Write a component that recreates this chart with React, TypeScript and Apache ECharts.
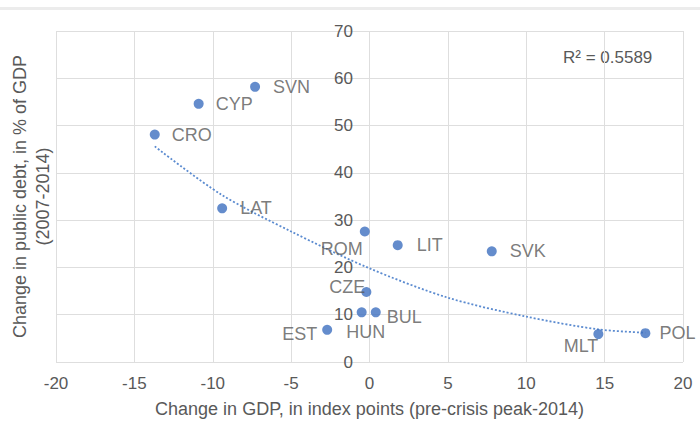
import React, { useEffect, useRef } from "react";
import * as echarts from "echarts";

// Countries and their values
const countries = ["CRO", "CYP", "SVN", "LAT", "ROM", "LIT", "SVK", "CZE", "HUN", "BUL", "EST", "MLT", "POL"];
const gdpChange = [-13.7, -10.9, -7.3, -9.4, -0.3, 1.8, 7.8, -0.2, -0.5, 0.4, -2.7, 14.6, 17.6];
const debtChange = [48.1, 54.6, 58.2, 32.5, 27.6, 24.7, 23.4, 14.8, 10.5, 10.5, 6.8, 5.9, 6.1];

// Trend line points
const trendGdp = [-13.7, -9.5, -5, 0, 5, 10, 14.6, 17.6];
const trendDebt = [45.6, 35.5, 27.6, 19.8, 13.6, 9.6, 6.9, 6.2];

const rSquaredText = "R\u00B2 = 0.5589";
const xTitle = "Change in GDP, in index points (pre-crisis peak-2014)";
const yTitle = "Change in public debt, in % of GDP\n(2007-2014)";

const labelPlacement: Record<string, any> = {
  CRO: { position: "right", distance: 12 },
  CYP: { position: "right", distance: 12 },
  SVN: { position: "right", distance: 13 },
  LAT: { position: "right", distance: 13 },
  ROM: { position: "left", distance: 0, offset: [3, 18] },
  LIT: { position: "right", distance: 14 },
  SVK: { position: "right", distance: 13 },
  CZE: { position: "left", distance: 0, offset: [4, -5] },
  HUN: { position: "bottom", distance: 1, offset: [4, 5] },
  BUL: { position: "right", distance: 6, offset: [0, 5] },
  EST: { position: "left", distance: 5, offset: [0, 4] },
  MLT: { position: "left", distance: 0, offset: [5, 12] },
  POL: { position: "right", distance: 9 },
};

const FONT = "'Liberation Sans', Arial, sans-serif";
const TEXT = "#595959";

export default function App() {
  const ref = useRef<HTMLDivElement>(null);
  useEffect(() => {
    if (!ref.current) return;
    const chart = echarts.init(ref.current, undefined, { renderer: "svg" });
    const points = countries.map((c, i) => ({
      name: c,
      value: [gdpChange[i], debtChange[i]],
      label: { show: true, formatter: "{b}", ...labelPlacement[c] },
    }));
    const trend = trendGdp.map((x, i) => [x, trendDebt[i]]);
    chart.setOption({
      animation: false,
      textStyle: { fontFamily: FONT },
      grid: { left: 56, right: 17, top: 31, bottom: 60 },
      xAxis: {
        type: "value",
        min: -20,
        max: 20,
        interval: 5,
        axisLine: { show: false },
        axisTick: { show: false },
        splitLine: { show: true, lineStyle: { color: "#dedede", width: 1 } },
        axisLabel: { color: TEXT, fontSize: 17, margin: 13, fontFamily: FONT },
        name: xTitle,
        nameLocation: "middle",
        nameGap: 38,
        nameTextStyle: { color: TEXT, fontSize: 18, fontFamily: FONT },
      },
      yAxis: {
        type: "value",
        min: 0,
        max: 70,
        interval: 10,
        axisLine: { show: false },
        axisTick: { show: false },
        splitLine: { show: true, lineStyle: { color: "#dedede", width: 1 } },
        axisLabel: { color: TEXT, fontSize: 17, margin: -297, fontFamily: FONT },
        name: yTitle,
        nameLocation: "middle",
        nameGap: 2,
        nameTextStyle: { color: TEXT, fontSize: 18, lineHeight: 23, fontFamily: FONT, align: "center" },
      },
      series: [
        {
          type: "line",
          data: trend,
          smooth: 0.3,
          symbol: "none",
          silent: true,
          z: 1,
          lineStyle: { color: "#5b8bd0", width: 1.8, type: [2, 2] },
        },
        {
          type: "scatter",
          data: points,
          symbol: "circle",
          symbolSize: 10,
          z: 3,
          itemStyle: { color: "#3d6fbf" },
          label: { color: TEXT, fontSize: 18, fontFamily: FONT },
        },
      ],
      graphic: [
        {
          type: "rect",
          shape: { x: 0, y: 7, width: 700, height: 3 },
          style: { fill: "#ececec" },
          silent: true,
        },
        {
          type: "text",
          x: 563,
          y: 57,
          style: { text: rSquaredText, fill: TEXT, font: `17px ${FONT}`, verticalAlign: "middle", align: "left" },
          silent: true,
        },
      ],
    });
    return () => chart.dispose();
  }, []);
  return (
    <div
      ref={ref}
      style={{ position: "fixed", left: 0, top: 0, width: 700, height: 423, background: "#ffffff" }}
    />
  );
}
